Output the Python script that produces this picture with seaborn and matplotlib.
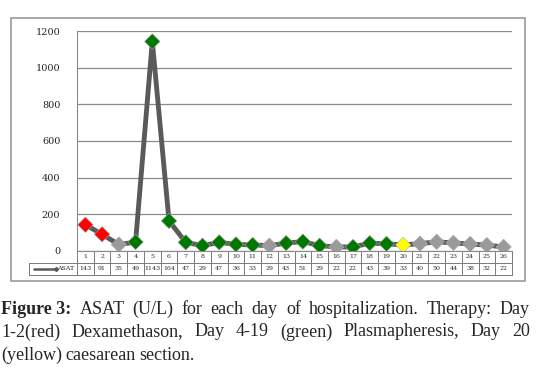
import numpy as np
import pandas as pd
import seaborn as sns
import matplotlib.pyplot as plt
from matplotlib.patches import Rectangle
from matplotlib.lines import Line2D
import matplotlib.transforms as mtrans

# ASAT (U/L) per day of hospitalization
days = list(range(1, 27))
asat = [143, 91, 35, 49, 1143, 164, 47, 29, 47, 36, 33, 29, 43,
        51, 29, 22, 22, 43, 39, 33, 40, 50, 44, 38, 32, 22]
# therapy per day: red = Dexamethason, green = Plasmapheresis, yellow = caesarean
therapy = ["red", "red", "none", "green", "green", "green", "green", "green",
           "green", "green", "green", "none", "green", "green", "green", "none",
           "green", "green", "green", "yellow", "none", "none", "none", "none",
           "none", "none"]
yticks = [0, 200, 400, 600, 800, 1000, 1200]

df = pd.DataFrame({"day": days, "asat": asat, "therapy": therapy})
pal = {"red": "#ff0000", "green": "#007800", "yellow": "#ffff00", "none": "#9a9a9a"}

sns.set_style("white")
fig = plt.figure(figsize=(5.36, 3.89), dpi=100)
ax = fig.add_axes([0.1437, 0.3548, 0.8115, 0.5655])

sns.lineplot(data=df, x="day", y="asat", ax=ax, color="#5a5a5a", linewidth=3.5,
             zorder=2)
sns.scatterplot(data=df, x="day", y="asat", hue="therapy", palette=pal, ax=ax,
                marker="D", s=62, edgecolor="#a8a8a8", linewidth=0.4,
                legend=False, zorder=3)

ax.set_xlim(0.5, 26.5)
ax.set_ylim(0, 1200)
ax.set_yticks(yticks)
ax.set_yticklabels([str(v) for v in yticks], family="DejaVu Serif", fontsize=7)
ax.set_xticks([])
ax.set_xlabel("")
ax.set_ylabel("")
ax.yaxis.grid(True, color="#8a8a8a", linewidth=0.9)
ax.tick_params(axis="y", length=0, pad=12)
for s in ["top", "right"]:
    ax.spines[s].set_visible(False)
ax.spines["left"].set_color("#8a8a8a")
ax.spines["bottom"].set_color("#8a8a8a")

# data table below the plot (x in data units, y in axes fraction)
tr = mtrans.blended_transform_factory(ax.transData, ax.transAxes)
rh = 12 / 220
lab_left = 0.5 - 48 / (435 / 26)
gc = "#7a7a7a"
kw = dict(transform=tr, clip_on=False, color=gc, linewidth=0.7)
ax.plot([0.5, 26.5], [-rh, -rh], **kw)
ax.plot([lab_left, 26.5], [-2 * rh, -2 * rh], **kw)
ax.plot([lab_left, 0.5], [-rh, -rh], **kw)
ax.plot([lab_left, lab_left], [-rh, -2 * rh], **kw)
for i in range(27):
    ax.plot([i + 0.5, i + 0.5], [0, -2 * rh], **kw)
for d, v in zip(days, asat):
    ax.text(d, -0.5 * rh, str(d), transform=tr, ha="center", va="center",
            fontsize=4.5, family="DejaVu Serif")
    ax.text(d, -1.5 * rh, str(v), transform=tr, ha="center", va="center",
            fontsize=4.5, family="DejaVu Serif")
ax.text(0.3, -1.5 * rh, "ASAT", transform=tr, ha="right", va="center",
        fontsize=4.5, family="DejaVu Serif")
# legend key line in the table
ax.add_line(Line2D([lab_left + 0.3, lab_left + 1.6], [-1.5 * rh, -1.5 * rh],
                   transform=tr, clip_on=False, color="#5a5a5a", linewidth=1.8,
                   marker="D", markersize=2, markevery=[1]))

# outer chart frame
fig.add_artist(Rectangle((11 / 536, 1 - 281 / 389), 514 / 536, 263 / 389,
                         transform=fig.transFigure, fill=False,
                         edgecolor="#9a9a9a", linewidth=1.2))

# caption, justified like the journal layout
cap_font = "Liberation Serif"
cap_size = 13
renderer = fig.canvas.get_renderer()


def put_line(parts, y, x0, x1, justify):
    # parts: list of (word, bold)
    arts = []
    for w, b in parts:
        t = fig.text(0, y, w, fontsize=cap_size, family=cap_font,
                     weight="bold" if b else "normal", va="center", ha="left")
        arts.append(t)
    widths = [a.get_window_extent(renderer).width for a in arts]
    if justify and len(arts) > 1:
        gap = (x1 - x0 - sum(widths)) / (len(arts) - 1)
    else:
        gap = 3.4
    x = x0
    for a, w in zip(arts, widths):
        a.set_x(x / 536)
        x += w + gap


line1 = [("Figure 3:", True)] + [(w, False) for w in
         "ASAT (U/L) for each day of hospitalization. Therapy: Day".split()]
line2 = [(w, False) for w in
         "1-2(red) Dexamethason, Day 4-19 (green) Plasmapheresis, Day 20".split()]
line3 = [(w, False) for w in "(yellow) caesarean section.".split()]
put_line(line1, 1 - 309 / 389, 1, 530, True)
put_line(line2, 1 - 332 / 389, 1, 530, True)
put_line(line3, 1 - 355 / 389, 1, 530, False)

fig.savefig("out.png", dpi=100)
